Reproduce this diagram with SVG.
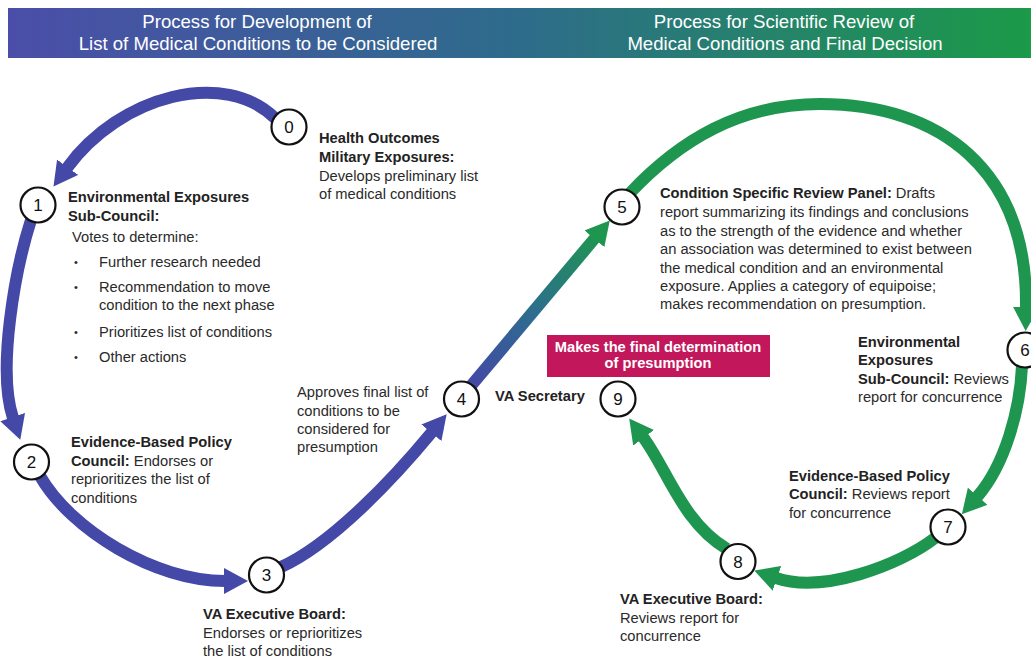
<svg xmlns="http://www.w3.org/2000/svg" width="1031" height="659" viewBox="0 0 1031 659">
  <style>
    .hdr { font-family: "Liberation Sans", Arial, sans-serif; font-size: 18.6px; fill: #ffffff; text-anchor: middle; }
    .txt { font-family: "Liberation Sans", Arial, sans-serif; font-size: 14.7px; fill: #2a2a2a; }
    .b { font-weight: bold; fill: #222222; }
    .dot { font-family: "Liberation Sans", Arial, sans-serif; font-size: 11px; fill: #2a2a2a; }
    .num { font-family: "Liberation Sans", Arial, sans-serif; font-size: 17px; fill: #111111; text-anchor: middle; }
    .ring { fill: #ffffff; stroke: #111111; stroke-width: 2.2; }
    .blue { fill: none; stroke: #4448a6; stroke-width: 12; }
    .green { fill: none; stroke: #1f964f; stroke-width: 12; }
    .box { fill: #c2185b; }
    .boxtxt { font-family: "Liberation Sans", Arial, sans-serif; font-size: 14.7px; font-weight: bold; fill: #ffffff; text-anchor: middle; }
  </style>
  <defs>
    <linearGradient id="bandGrad" x1="0" y1="0" x2="1" y2="0">
      <stop offset="0" stop-color="#4b4ea9"/>
      <stop offset="0.5" stop-color="#2e6c8b"/>
      <stop offset="1" stop-color="#1b9a48"/>
    </linearGradient>
    <linearGradient id="riseGrad" gradientUnits="userSpaceOnUse" x1="471" y1="385" x2="600" y2="232">
      <stop offset="0" stop-color="#4448a6"/>
      <stop offset="0.5" stop-color="#2c6f8c"/>
      <stop offset="1" stop-color="#1f964f"/>
    </linearGradient>
    <marker id="headBlue" markerUnits="userSpaceOnUse" viewBox="0 0 24 26" markerWidth="24" markerHeight="26" refX="1" refY="13" orient="auto">
      <path d="M0,0 L24,13 L0,26 Z" fill="#4448a6"/>
    </marker>
    <marker id="headGreen" markerUnits="userSpaceOnUse" viewBox="0 0 24 26" markerWidth="24" markerHeight="26" refX="1" refY="13" orient="auto">
      <path d="M0,0 L24,13 L0,26 Z" fill="#1f964f"/>
    </marker>
  </defs>

  <rect width="1031" height="659" fill="#ffffff"/>

  <!-- title band -->
  <g id="header">
    <rect x="8" y="8" width="1023" height="50" fill="url(#bandGrad)"/>
    <text class="hdr" x="257" y="28">Process for Development of</text>
    <text class="hdr" x="258" y="50">List of Medical Conditions to be Considered</text>
    <text class="hdr" x="784" y="28">Process for Scientific Review of</text>
    <text class="hdr" x="785" y="50">Medical Conditions and Final Decision</text>
  </g>

  <!-- connectors -->
  <g id="connectors">
    <path class="blue" d="M276,119 C225,68 120,95 67,168" marker-end="url(#headBlue)"/>
    <path class="blue" d="M31,220 C15,270 -3,370 13,418" marker-end="url(#headBlue)"/>
    <path class="blue" d="M40,476 C71,530 155,581 225,581" marker-end="url(#headBlue)"/>
    <path class="blue" d="M281,567 C332,544 394,478 432,432" marker-end="url(#headBlue)"/>
    <path fill="none" stroke="url(#riseGrad)" stroke-width="12" d="M470,387 L595,238" marker-end="url(#headGreen)"/>
    <path class="green" d="M630,193 C680,140 740,104 820,104 C940,104 1028,170 1026,308" marker-end="url(#headGreen)"/>
    <path class="green" d="M1022,366 C1020,410 1005,465 977,497" marker-end="url(#headGreen)"/>
    <path class="green" d="M935,538 C900,565 823,594 776,578" marker-end="url(#headGreen)"/>
    <path class="green" d="M727,549 C682,522 667,469 643,437" marker-end="url(#headGreen)"/>
  </g>

  <!-- step 0 -->
  <g id="node0">
    <circle class="ring" cx="289" cy="127" r="17.5"/>
    <text class="num" x="289" y="133">0</text>
    <text class="txt" x="319" y="143"><tspan class="b">Health Outcomes</tspan></text>
    <text class="txt" x="319" y="162"><tspan class="b">Military Exposures:</tspan></text>
    <text class="txt" x="319" y="181">Develops preliminary list</text>
    <text class="txt" x="319" y="199">of medical conditions</text>
  </g>

  <!-- step 1 -->
  <g id="node1">
    <circle class="ring" cx="38" cy="205" r="17.5"/>
    <text class="num" x="38" y="211">1</text>
    <text class="txt" x="68" y="202"><tspan class="b">Environmental Exposures</tspan></text>
    <text class="txt" x="68" y="221"><tspan class="b">Sub-Council:</tspan></text>
    <text class="txt" x="72" y="242">Votes to determine:</text>
    <text class="dot" x="74" y="266">•</text>
    <text class="txt" x="99" y="267">Further research needed</text>
    <text class="dot" x="74" y="291">•</text>
    <text class="txt" x="99" y="292">Recommendation to move</text>
    <text class="txt" x="99" y="310">condition to the next phase</text>
    <text class="dot" x="74" y="336">•</text>
    <text class="txt" x="99" y="337">Prioritizes list of conditions</text>
    <text class="dot" x="74" y="361">•</text>
    <text class="txt" x="99" y="362">Other actions</text>
  </g>

  <!-- step 2 -->
  <g id="node2">
    <circle class="ring" cx="31.5" cy="462" r="17.5"/>
    <text class="num" x="31.5" y="468">2</text>
    <text class="txt" x="71" y="447"><tspan class="b">Evidence-Based Policy</tspan></text>
    <text class="txt" x="71" y="466"><tspan class="b">Council:</tspan> Endorses or</text>
    <text class="txt" x="71" y="484">reprioritizes the list of</text>
    <text class="txt" x="71" y="503">conditions</text>
  </g>

  <!-- step 3 -->
  <g id="node3">
    <circle class="ring" cx="266.5" cy="575" r="17.5"/>
    <text class="num" x="266.5" y="581">3</text>
    <text class="txt" x="203" y="619"><tspan class="b">VA Executive Board:</tspan></text>
    <text class="txt" x="203" y="638">Endorses or reprioritizes</text>
    <text class="txt" x="203" y="656">the list of conditions</text>
  </g>

  <!-- step 4 -->
  <g id="node4">
    <circle class="ring" cx="461.5" cy="399" r="17.5"/>
    <text class="num" x="461.5" y="405">4</text>
    <text class="txt" x="297" y="397">Approves final list of</text>
    <text class="txt" x="297" y="416">conditions to be</text>
    <text class="txt" x="297" y="434">considered for</text>
    <text class="txt" x="297" y="452">presumption</text>
  </g>

  <!-- step 5 -->
  <g id="node5">
    <circle class="ring" cx="622" cy="207" r="17.5"/>
    <text class="num" x="622" y="213">5</text>
    <text class="txt" x="660" y="198"><tspan class="b">Condition Specific Review Panel:</tspan> Drafts</text>
    <text class="txt" x="660" y="217">report summarizing its findings and conclusions</text>
    <text class="txt" x="660" y="236">as to the strength of the evidence and whether</text>
    <text class="txt" x="660" y="254">an association was determined to exist between</text>
    <text class="txt" x="660" y="273">the medical condition and an environmental</text>
    <text class="txt" x="660" y="291">exposure. Applies a category of equipoise;</text>
    <text class="txt" x="660" y="309">makes recommendation on presumption.</text>
  </g>

  <!-- step 6 -->
  <g id="node6">
    <circle class="ring" cx="1025" cy="350" r="17.5"/>
    <text class="num" x="1025" y="356">6</text>
    <text class="txt" x="858" y="347"><tspan class="b">Environmental</tspan></text>
    <text class="txt" x="858" y="365"><tspan class="b">Exposures</tspan></text>
    <text class="txt" x="858" y="384"><tspan class="b">Sub-Council:</tspan> Reviews</text>
    <text class="txt" x="858" y="402">report for concurrence</text>
  </g>

  <!-- step 7 -->
  <g id="node7">
    <circle class="ring" cx="948" cy="527" r="17.5"/>
    <text class="num" x="948" y="533">7</text>
    <text class="txt" x="789" y="481"><tspan class="b">Evidence-Based Policy</tspan></text>
    <text class="txt" x="789" y="499"><tspan class="b">Council:</tspan> Reviews report</text>
    <text class="txt" x="789" y="518">for concurrence</text>
  </g>

  <!-- step 8 -->
  <g id="node8">
    <circle class="ring" cx="738" cy="561.5" r="17.5"/>
    <text class="num" x="738" y="567.5">8</text>
    <text class="txt" x="620" y="604"><tspan class="b">VA Executive Board:</tspan></text>
    <text class="txt" x="620" y="623">Reviews report for</text>
    <text class="txt" x="620" y="641">concurrence</text>
  </g>

  <!-- step 9 -->
  <g id="node9">
    <rect class="box" x="547" y="335" width="223" height="42"/>
    <text class="boxtxt" x="658" y="352">Makes the final determination</text>
    <text class="boxtxt" x="658" y="368">of presumption</text>
    <text class="txt" x="495" y="401"><tspan class="b">VA Secretary</tspan></text>
    <circle class="ring" cx="618" cy="399" r="17.5"/>
    <text class="num" x="618" y="405">9</text>
  </g>
</svg>
